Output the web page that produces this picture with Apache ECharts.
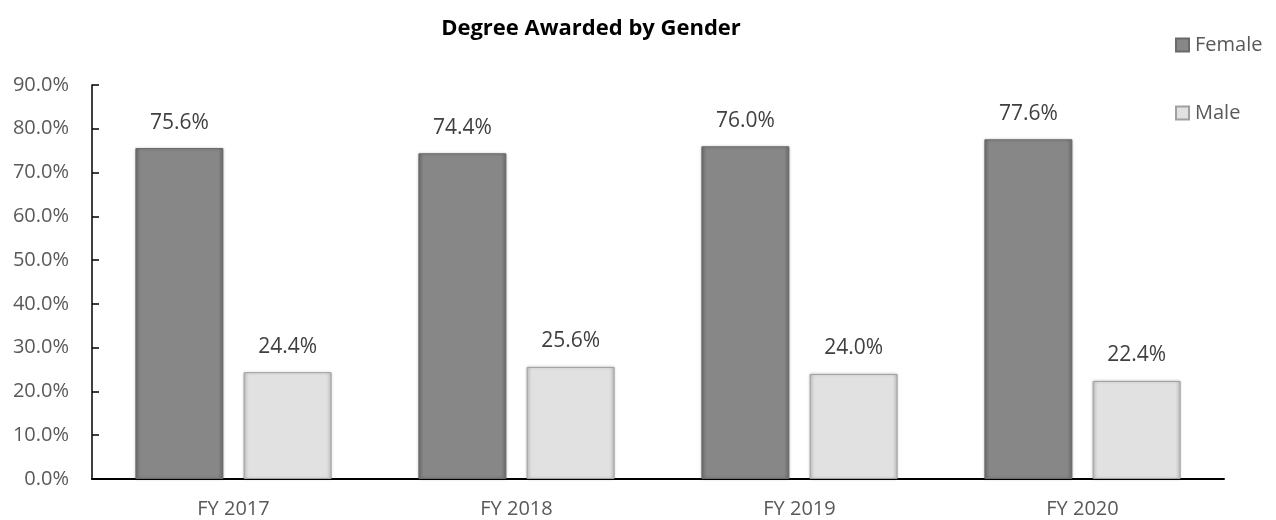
<!DOCTYPE html>
<html>
<head>
<meta charset="utf-8">
<script src="https://cdn.jsdelivr.net/npm/echarts@6/dist/echarts.min.js"></script>
<style>html,body{margin:0;padding:0;background:#fff}#c{width:1276px;height:520px}</style>
</head>
<body>
<div id="c"></div>
<script>
const categories = ['FY 2017', 'FY 2018', 'FY 2019', 'FY 2020'];
const female = [75.6, 74.4, 76.0, 77.6];
const male = [24.4, 25.6, 24.0, 22.4];
const yTicks = [0, 10, 20, 30, 40, 50, 60, 70, 80, 90];

const FONT = 'Open Sans, Lato, sans-serif';
function grad(edge, mid) {
  return new echarts.graphic.LinearGradient(0, 0, 1, 0, [
    {offset: 0, color: edge}, {offset: 0.06, color: mid},
    {offset: 0.94, color: mid}, {offset: 1, color: edge}
  ]);
}
const chart = echarts.init(document.getElementById('c'));
chart.setOption({
  animation: false,
  title: {
    text: 'Degree Awarded by Gender', left: 586, top: 13, textAlign: 'center',
    textStyle: {fontFamily: FONT, fontWeight: 'bold', fontSize: 22, color: '#000'}
  },
  legend: {
    orient: 'vertical', left: 1170, top: 30, itemGap: 48, itemWidth: 13, itemHeight: 13,
    icon: 'rect',
    textStyle: {fontFamily: FONT, fontSize: 20, color: '#595959', padding: [0, 0, 0, 1]},
    data: ['Female', 'Male']
  },
  grid: {left: 92, right: 52, top: 85, bottom: 41},
  xAxis: {
    type: 'category', data: categories,
    axisLine: {lineStyle: {color: '#000', width: 2}},
    axisTick: {show: false},
    axisLabel: {fontFamily: FONT, fontSize: 20, color: '#595959', margin: 20}
  },
  yAxis: {
    type: 'value', min: yTicks[0], max: yTicks[yTicks.length - 1], interval: 10,
    axisLine: {show: true, lineStyle: {color: '#000', width: 1.5}},
    axisTick: {show: true, inside: true, length: 7, lineStyle: {color: '#000', width: 1.5}},
    splitLine: {show: false},
    axisLabel: {fontFamily: FONT, fontSize: 20, color: '#595959', margin: 23,
      formatter: v => v.toFixed(1) + '%'}
  },
  series: [
    {
      name: 'Female', type: 'bar', data: female, barWidth: 88, barGap: '23%',
      itemStyle: {color: grad('#6e6e6e', '#878787'), borderColor: '#6a6a6a', borderWidth: 1,
        shadowColor: 'rgba(0,0,0,0.25)', shadowBlur: 3},
      label: {show: true, position: 'top', distance: 15, fontFamily: FONT, fontSize: 21,
        color: '#404040', formatter: p => p.value.toFixed(1) + '%'}
    },
    {
      name: 'Male', type: 'bar', data: male, barWidth: 88,
      itemStyle: {color: grad('#c4c4c4', '#e1e1e1'), borderColor: '#a0a0a0', borderWidth: 1,
        shadowColor: 'rgba(0,0,0,0.2)', shadowBlur: 3},
      label: {show: true, position: 'top', distance: 15, fontFamily: FONT, fontSize: 21,
        color: '#404040', formatter: p => p.value.toFixed(1) + '%'}
    }
  ]
});
</script>
</body>
</html>
